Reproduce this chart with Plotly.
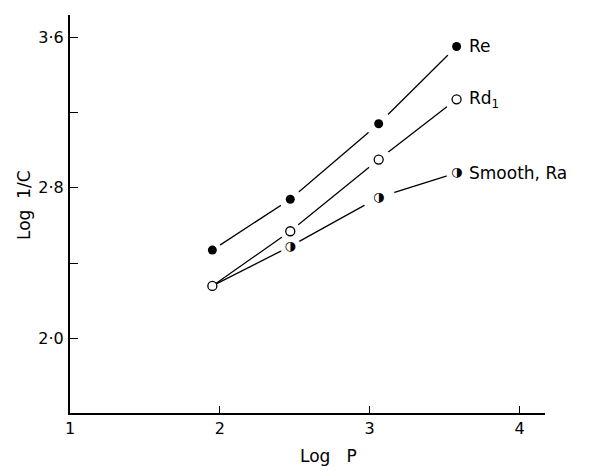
import plotly.graph_objects as go

log_p = [1.95, 2.47, 3.06, 3.58]
re_vals = [2.47, 2.74, 3.14, 3.55]
rd_vals = [2.28, 2.57, 2.95, 3.27]
smooth_x = [1.95, 2.47, 3.06, 3.58]
smooth_vals = [2.28, 2.49, 2.75, 2.88]

series_names = ["Re", "Rd<sub>1</sub>", "Smooth, Ra"]

x_tickvals = [1, 2, 3, 4]
x_ticktext = ["1", "2", "3", "4"]
y_tickvals = [2.0, 2.4, 2.8, 3.2, 3.6]
y_ticktext = ["2·0", "", "2·8", "", "3·6"]

FONT = "DejaVu Sans"
fig = go.Figure()

line_style = dict(color="black", width=1.3)
fig.add_trace(go.Scatter(x=log_p, y=re_vals, mode="lines", line=line_style, showlegend=False, hoverinfo="skip"))
fig.add_trace(go.Scatter(x=log_p, y=rd_vals, mode="lines", line=line_style, showlegend=False, hoverinfo="skip"))
fig.add_trace(go.Scatter(x=smooth_x, y=smooth_vals, mode="lines", line=line_style, showlegend=False, hoverinfo="skip"))

# white halos that break the lines near the markers
fig.add_trace(go.Scatter(x=log_p, y=re_vals, mode="markers",
                         marker=dict(color="white", size=[18, 22, 26, 24], opacity=1),
                         showlegend=False, hoverinfo="skip"))
fig.add_trace(go.Scatter(x=log_p[1:], y=rd_vals[1:], mode="markers",
                         marker=dict(color="white", size=[20, 24, 24], opacity=1),
                         showlegend=False, hoverinfo="skip"))
fig.add_trace(go.Scatter(x=smooth_x[1:], y=smooth_vals[1:], mode="markers",
                         marker=dict(color="white", size=[20, 32, 20], opacity=1),
                         showlegend=False, hoverinfo="skip"))

fig.add_trace(go.Scatter(x=log_p, y=re_vals, mode="markers",
                         marker=dict(symbol="circle", color="black", size=9),
                         name=series_names[0], showlegend=False))
fig.add_trace(go.Scatter(x=log_p, y=rd_vals, mode="markers",
                         marker=dict(symbol="circle", color="white", size=9, line=dict(color="black", width=1.3)),
                         name=series_names[1], showlegend=False))
fig.add_trace(go.Scatter(x=smooth_x[1:], y=smooth_vals[1:], mode="text",
                         text=["◑"] * (len(smooth_x) - 1), textposition="middle center",
                         textfont=dict(family="DejaVu Sans", size=13, color="black"),
                         name=series_names[2], showlegend=False))

for name, xs, ys in [(series_names[0], log_p, re_vals),
                     (series_names[1], log_p, rd_vals),
                     (series_names[2], smooth_x, smooth_vals)]:
    fig.add_annotation(x=xs[-1], y=ys[-1], text=name, showarrow=False,
                       xanchor="left", yanchor="middle", xshift=10,
                       font=dict(family=FONT, size=17, color="black"))

fig.add_annotation(xref="paper", yref="paper", x=0.5, y=0, xshift=21, yshift=-31,
                   text="Log   P", showarrow=False, xanchor="center", yanchor="top",
                   font=dict(family=FONT, size=17, color="black"))
fig.add_annotation(xref="paper", yref="paper", x=0, y=0.5, xshift=-46, yshift=9,
                   text="Log  1/C", showarrow=False, textangle=-90,
                   xanchor="center", yanchor="middle",
                   font=dict(family=FONT, size=17, color="black"))

# page body adds an 8px offset, so the figure is 8px smaller in each direction
fig.update_layout(
    width=581, height=463,
    margin=dict(l=62, r=44, t=7, b=58),
    paper_bgcolor="white", plot_bgcolor="white",
    font=dict(family=FONT, size=16, color="black"),
    xaxis=dict(range=[1, 4.17], tickvals=x_tickvals, ticktext=x_ticktext,
               ticks="inside", ticklen=7, tickwidth=1.3, tickcolor="black",
               showline=True, linecolor="black", linewidth=2, showgrid=False, zeroline=False,
               tickfont=dict(family=FONT, size=16), automargin=False),
    yaxis=dict(range=[1.606, 3.717], tickvals=y_tickvals, ticktext=y_ticktext,
               ticks="inside", ticklen=8, tickwidth=1.3, tickcolor="black",
               showline=True, linecolor="black", linewidth=2, showgrid=False, zeroline=False,
               tickfont=dict(family=FONT, size=16), ticklabelstandoff=1, automargin=False),
)

fig.write_html("out.html")
